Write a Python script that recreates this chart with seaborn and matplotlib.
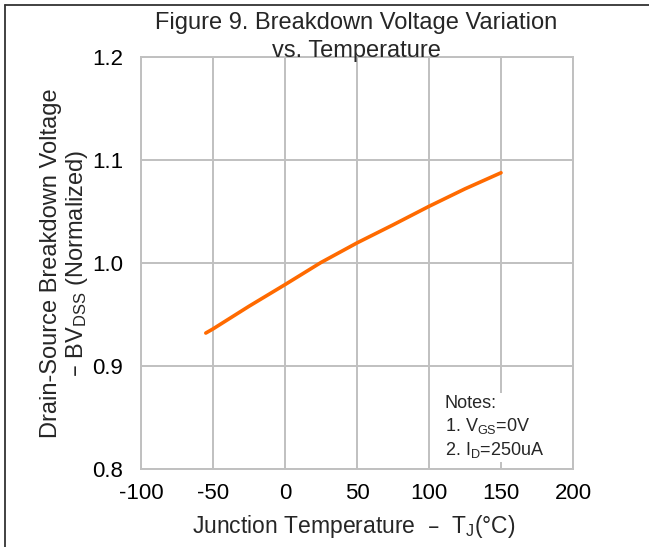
import matplotlib
matplotlib.use("Agg")
import matplotlib.pyplot as plt
import seaborn as sns
import pandas as pd
from matplotlib.lines import Line2D

# Data
temps = [-55, -50, -25, 0, 25, 50, 75, 100, 125, 150]
bvdss = [0.932, 0.936, 0.958, 0.979, 1.0005, 1.0195, 1.037, 1.055, 1.072, 1.0876]
x_ticks = [-100, -50, 0, 50, 100, 150, 200]
y_ticks = [0.8, 0.9, 1.0, 1.1, 1.2]
y_tick_labels = ["0.8", "0.9", "1.0", "1.1", "1.2"]

sns.set_style("white")
plt.rcParams['font.family'] = ['Liberation Sans', 'DejaVu Sans']
plt.rcParams['mathtext.default'] = 'regular'

df = pd.DataFrame({"T": temps, "BV": bvdss})

W, H = 649, 547
fig = plt.figure(figsize=(W / 100, H / 100), dpi=100)
ax = fig.add_axes([141 / W, 1 - 469 / H, 432 / W, 412 / H])

sns.lineplot(data=df, x="T", y="BV", ax=ax, color="#FF6A00", linewidth=2.6)

ax.set_xlim(-100, 200)
ax.set_ylim(0.8, 1.2)
ax.set_xticks(x_ticks)
ax.set_xticklabels([str(v) for v in x_ticks])
ax.set_yticks(y_ticks)
ax.set_yticklabels(y_tick_labels)
ax.grid(True, color="#C0C0C0", linewidth=1.4)
ax.set_axisbelow(True)
for s in ax.spines.values():
    s.set_visible(True)
    s.set_color("#C0C0C0")
    s.set_linewidth(1.4)
ax.tick_params(axis="both", length=0, labelsize=16, colors="black")
ax.tick_params(axis="y", pad=13)
ax.tick_params(axis="x", pad=10)
ax.set_xlabel("")
ax.set_ylabel("")

# Title
fig.text(356 / W, 1 - 37 / H, "Figure 9. Breakdown Voltage Variation\nvs. Temperature",
         ha="center", va="center", fontsize=17, linespacing=1.3)

# Y label
fig.text(65 / W, 1 - 263 / H, "Drain-Source Breakdown Voltage\n\u2013 BV$_{DSS}$ (Normalized)",
         ha="center", va="center", rotation=90, fontsize=17, linespacing=1.1,
         multialignment="center")

# X label
fig.text(354 / W, 1 - 527 / H, "Junction Temperature  \u2013  T$_J$(\u00b0C)",
         ha="center", va="center", fontsize=16.5)

# Notes
ax.text(445 / W, 1 - 395 / H, "Notes:\n1. V$_{GS}$=0V\n2. I$_D$=250uA",
        transform=fig.transFigure, ha="left", va="top", fontsize=13, linespacing=1.25,
        bbox=dict(facecolor="white", edgecolor="none", pad=2))

# Outer frame lines (left and top)
fig.add_artist(Line2D([5 / W, 5 / W], [0, 1 - 5 / H], transform=fig.transFigure,
                      color="#333333", linewidth=1.3))
fig.add_artist(Line2D([5 / W, 1], [1 - 5 / H, 1 - 5 / H], transform=fig.transFigure,
                      color="#333333", linewidth=1.3))

fig.savefig("out.png", dpi=100)
